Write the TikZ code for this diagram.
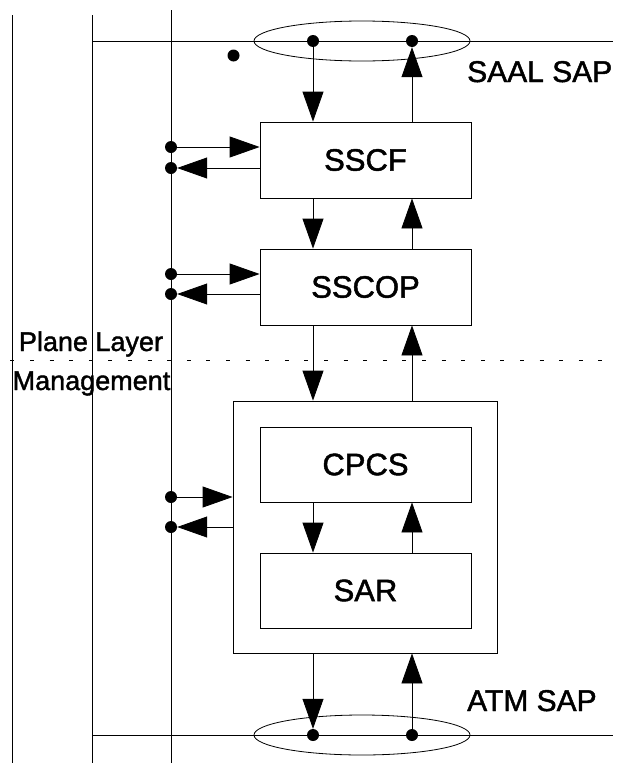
\documentclass[tikz,border=0pt]{standalone}
\usepackage{fontspec}
\setmainfont{Liberation Sans}
\newfontfamily\labelfont{Liberation Sans}[FakeBold=1.5]
\usetikzlibrary{arrows.meta,shapes.geometric}
\begin{document}
\begin{tikzpicture}[x=1pt,y=-1pt,
  wire/.style={line width=0.8pt},
  arr/.style={line width=0.8pt,-{Triangle[length=30pt,width=21pt]}},
  dot/.style={circle,fill,inner sep=0pt,minimum size=12pt},
  box/.style={draw,line width=0.8pt,rectangle,inner sep=0pt,minimum width=211pt,
              font=\labelfont\fontsize{31}{37}\selectfont},
  sap/.style={draw,ellipse,line width=0.8pt,inner sep=0pt,
              minimum width=216pt,minimum height=40pt},
  lbl/.style={inner sep=0pt,font=\labelfont\fontsize{30}{36}\selectfont},
  plm/.style={inner sep=0pt,font=\labelfont\fontsize{27}{32}\selectfont},
  sepline/.style={line width=0.8pt,dash pattern=on 4pt off 15.6pt}]

\useasboundingbox (0,0) rectangle (621,763);

% vertical rails
\coordinate (r1t) at (12,15);   \coordinate (r1b) at (12,763);
\coordinate (r2t) at (92,15);   \coordinate (r2b) at (92,763);
\coordinate (r3t) at (171,10);  \coordinate (r3b) at (171,763);
\draw[wire] (r1t) -- (r1b);
\draw[wire] (r2t) -- (r2b);
\draw[wire] (r3t) -- (r3b);

% service access point lines
\coordinate (saalL) at (92,41);  \coordinate (saalR) at (613,41);
\coordinate (atmL)  at (92,735); \coordinate (atmR)  at (613,735);
\draw[wire] (saalL) -- (saalR);
\draw[wire] (atmL) -- (atmR);
\node[sap] (saal) at (362,41) {};
\node[sap] (atm)  at (362,735) {};

% plane / layer management separator
\coordinate (sepL) at (10.4,360); \coordinate (sepR) at (612,360);
\draw[sepline] (sepL) -- (sepR);

% protocol blocks
\node[box,minimum height=76pt] (sscf)  at (365.5,160) {SSCF};
\node[box,minimum height=76pt] (sscop) at (365.5,287) {SSCOP};
\node[draw,line width=0.8pt,inner sep=0pt,minimum width=264pt,minimum height=252pt] (cpcsar) at (365,527) {};
\node[box,minimum height=75pt] (cpcs)  at (365.5,464.5) {CPCS};
\node[box,minimum height=75pt] (sar)   at (365.5,590.5) {SAR};

% access point dots
\node[dot] (sd) at (313,41) {};
\node[dot] (su) at (412,41) {};
\node[dot] (ad) at (313,735) {};
\node[dot] (au) at (412,735) {};
\node[dot] (lone) at (233.5,55.5) {};

% management dots
\node[dot] (m1) at (171,147) {};
\node[dot] (m2) at (171,168) {};
\node[dot] (m3) at (171,274) {};
\node[dot] (m4) at (171,294) {};
\node[dot] (m5) at (171,497) {};
\node[dot] (m6) at (171,527) {};

% downward flow
\draw[arr] (sd) -- (sd |- sscf.north);
\draw[arr] (sscf.south -| sd) -- (sscop.north -| sd);
\draw[arr] (sscop.south -| sd) -- (cpcsar.north -| sd);
\draw[arr] (cpcs.south -| sd) -- (sar.north -| sd);
\draw[arr] (cpcsar.south -| ad) -- (ad);

% upward flow
\draw[arr] (su |- sscf.north) -- (su);
\draw[arr] (sscop.north -| su) -- (sscf.south -| su);
\draw[arr] (cpcsar.north -| su) -- (sscop.south -| su);
\draw[arr] (sar.north -| su) -- (cpcs.south -| su);
\draw[arr] (au) -- (cpcsar.south -| au);

% layer management exchanges
\draw[arr] (m1) -- (m1 -| sscf.west);
\draw[arr] (m2 -| sscf.west) -- (m2);
\draw[arr] (m3) -- (m3 -| sscop.west);
\draw[arr] (m4 -| sscop.west) -- (m4);
\draw[arr] (m5) -- (m5 -| cpcsar.west);
\draw[arr] (m6 -| cpcsar.west) -- (m6);

% labels
\node[lbl,anchor=base west] (saallbl) at (467,82) {SAAL SAP};
\node[lbl,anchor=base west] (atmlbl) at (467,711) {ATM SAP};
\node[plm,anchor=base] (plane) at (91,351) {Plane Layer};
\node[plm,anchor=base] (mgmt) at (91.5,390) {Management};
\end{tikzpicture}
\end{document}
